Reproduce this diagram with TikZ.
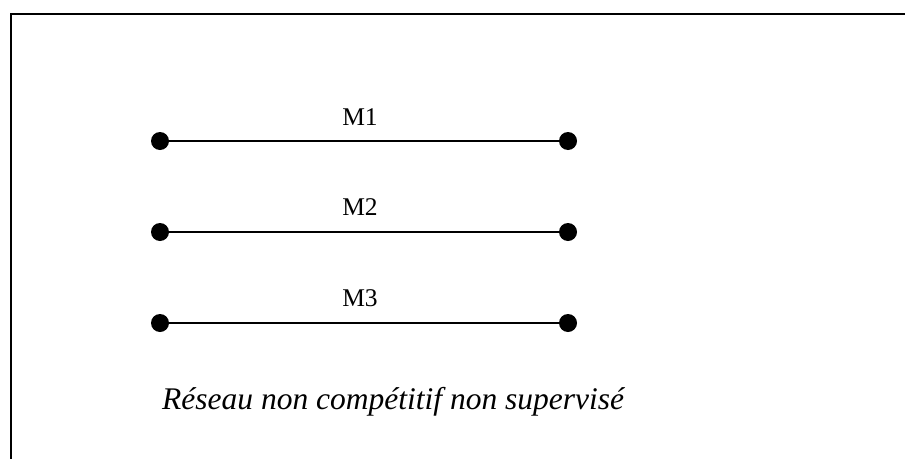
\documentclass[tikz,border=0pt]{standalone}
\usepackage{fontspec}
\setmainfont{Liberation Serif}
\begin{document}
\begin{tikzpicture}[x=1pt,y=-1pt,
  dotnode/.style={circle,fill=black,inner sep=0pt,minimum size=18pt},
  wire/.style={line width=2.6pt},
  mlabel/.style={anchor=base,inner sep=0pt,font=\fontsize{25.5}{30}\selectfont},
  captext/.style={anchor=base west,inner sep=0pt,font=\fontsize{31.5}{36}\selectfont\itshape},
  frame/.style={line width=2.4pt}]
\useasboundingbox (0,0) rectangle (905,458);
\coordinate (fc) at (11,14);
\coordinate (fr) at (906,14);
\coordinate (fb) at (11,459);
\draw[frame] (fr) -- (fc) -- (fb);
\node[dotnode] (a1) at (160,141) {};
\node[dotnode] (b1) at (568,141) {};
\node[dotnode] (a2) at (160,232) {};
\node[dotnode] (b2) at (568,232) {};
\node[dotnode] (a3) at (160,323) {};
\node[dotnode] (b3) at (568,323) {};
\draw[wire] (a1) -- (b1);
\draw[wire] (a2) -- (b2);
\draw[wire] (a3) -- (b3);
\node[mlabel] (m1) at (360,125) {M1};
\node[mlabel] (m2) at (360,215) {M2};
\node[mlabel] (m3) at (360,306) {M3};
\node[captext] (cap) at (162,409) {Réseau non compétitif non supervisé};
\end{tikzpicture}
\end{document}
